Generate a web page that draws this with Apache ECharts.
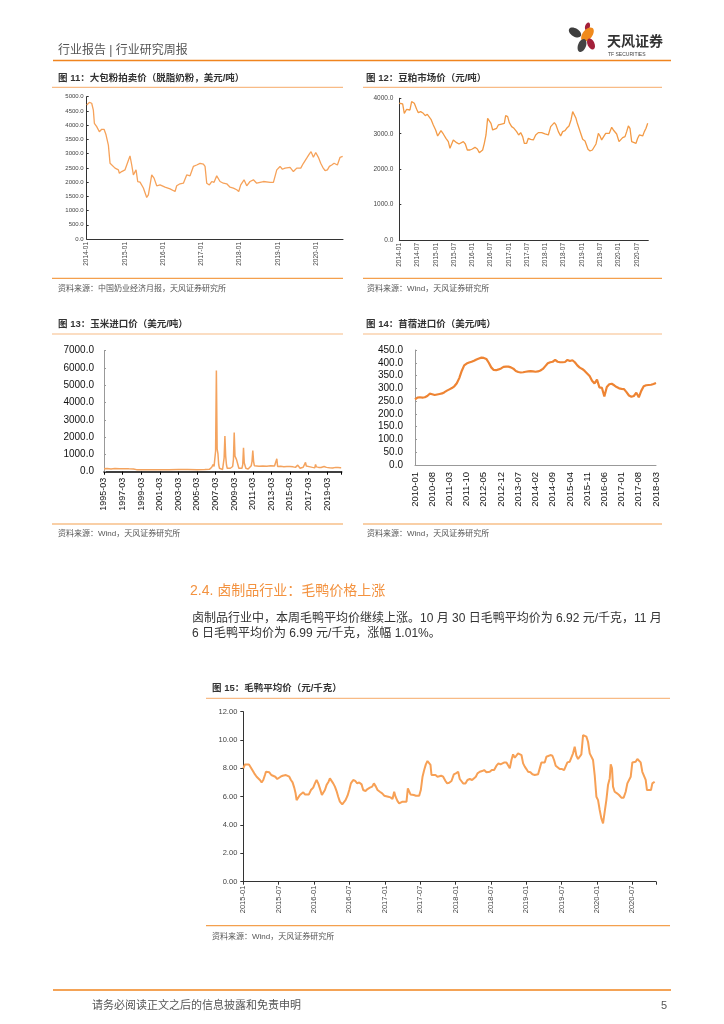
<!DOCTYPE html>
<html><head><meta charset="utf-8">
<script src="https://cdn.jsdelivr.net/npm/echarts@6/dist/echarts.min.js"></script>
<style>html,body{margin:0;padding:0;background:#fff}#c{width:724px;height:1024px}</style>
</head><body><div id="c"></div>
<script>
// ---- Data ----
// Fig 11: skim milk powder auction price, x = months since 2014-01
const milkTicks = ['2014-01','2015-01','2016-01','2017-01','2018-01','2019-01','2020-01'];
const milkData = [[0,4710],[0.84,4800],[1.57,4770],[2.09,4530],[2.41,4065],[3.14,3950],[3.98,3770],[4.71,3855],[5.45,3855],[6.07,3660],[6.81,3300],[7.33,2660],[7.85,2600],[8.9,2490],[9.95,2430],[10.26,2310],[10.99,2370],[12.04,2430],[12.77,2660],[13.6,2920],[14.14,2600],[14.66,2250],[15.5,2430],[16.02,2020],[16.75,2000],[17.8,1790],[18.85,1460],[19.37,1550],[19.9,1900],[20.42,2250],[21.15,2140],[21.99,1870],[23.04,1900],[24.6,1820],[26.18,1760],[27.75,1670],[28.27,1870],[29.32,1940],[30.37,1960],[31.41,2250],[32.46,2220],[33.5,2550],[34.55,2600],[35.6,2660],[36.65,2630],[37.17,2550],[37.7,1960],[38.53,1900],[39.27,2020],[40,1990],[40.84,2220],[41.88,2020],[42.93,1960],[43.98,1940],[45.03,1820],[46.07,1790],[47.12,1730],[47.75,1670],[48.38,1900],[49,1900],[49.42,2080],[50.26,1870],[51.3,2020],[52.36,2080],[53.4,1960],[54.45,1990],[55.5,2020],[57.6,1990],[58.64,1990],[59.7,2430],[60.73,2550],[61.47,2450],[62.3,2490],[63.87,2520],[64.92,2370],[65.97,2490],[67.23,2490],[68.06,2660],[69.1,2840],[69.95,2990],[70.47,3070],[71.2,2870],[71.94,3040],[72.77,2870],[73.5,2660],[74.14,2520],[74.87,2400],[75.6,2430],[76.23,2550],[76.96,2600],[77.7,2660],[78.32,2720],[78.74,2600],[79.58,2870],[80.4,2900]];

// Fig 12: soybean meal price, x = months since 2014-01
const soyTicks = ['2014-01','2014-07','2015-01','2015-07','2016-01','2016-07','2017-01','2017-07','2018-01','2018-07','2019-01','2019-07','2020-01','2020-07'];
const soyData = [[0,3860],[0.44,3880],[1.1,3840],[1.64,3576],[1.97,3530],[2.41,3690],[2.96,3718],[3.5,3670],[4.05,3906],[4.38,3953],[4.93,3859],[5.7,3690],[6.24,3595],[7.01,3624],[7.89,3576],[8.54,3510],[9.2,3548],[9.75,3595],[10.41,3407],[11.17,3247],[11.94,3106],[12.6,2936],[13.14,3012],[13.69,3087],[14.46,2993],[15.33,2871],[16.1,2776],[16.65,2588],[17.2,2541],[17.74,2824],[18.29,2776],[18.84,2748],[19.61,2711],[20.26,2748],[21.03,2776],[21.69,2711],[22.34,2541],[23.22,2541],[23.99,2569],[24.86,2616],[25.63,2569],[26.29,2466],[26.83,2428],[27.38,2541],[27.93,2729],[28.48,2965],[29.02,3435],[29.57,3435],[30.12,3294],[30.67,3106],[31.22,3153],[31.98,3153],[32.53,3247],[33.3,3266],[33.95,3219],[34.5,3294],[34.94,3510],[35.6,3482],[36.14,3313],[36.91,3200],[37.68,3153],[38.55,3059],[39.21,2965],[39.87,3031],[40.53,2918],[41.07,2729],[41.84,2729],[42.39,2871],[43.15,2842],[44.03,2824],[44.8,2965],[45.67,3031],[46.77,3031],[47.86,2993],[48.96,2965],[49.73,3200],[50.27,3181],[50.93,3313],[51.48,3247],[52.25,3059],[53.01,2936],[53.67,3059],[54.44,3087],[54.98,3153],[55.75,3219],[56.41,3388],[56.96,3624],[57.5,3624],[58.05,3435],[58.49,3294],[59.04,3247],[59.58,3012],[60.24,2842],[61.01,2795],[61.56,2776],[61.99,2560],[62.65,2513],[63.42,2541],[64.07,2560],[64.62,2711],[65.39,3012],[65.94,2936],[66.48,2824],[67.03,2842],[67.8,3012],[68.35,3031],[69,3012],[69.77,3181],[70.32,3106],[70.87,3059],[71.41,2993],[72.18,2776],[72.73,2748],[73.38,2889],[74.15,2918],[74.7,3059],[75.25,3219],[75.79,3153],[76.34,2776],[76.89,2748],[77.77,2729],[78.31,2871],[78.86,2965],[79.41,3012],[79.96,2936],[80.5,3059],[81.05,3153],[81.6,3294]];

// Fig 13: corn import price, x = months since 1995-03
const cornTicks = ['1995-03','1997-03','1999-03','2001-03','2003-03','2005-03','2007-03','2009-03','2011-03','2013-03','2015-03','2017-03','2019-03'];
const cornData = [[0,170],[4,185],[9,160],[14,180],[20,170],[26,175],[32,165],[38,160],[42,120],[50,110],[60,115],[72,120],[84,120],[96,125],[108,125],[120,120],[130,125],[136,135],[139,260],[141,420],[142,300],[143,250],[144,1200],[145,5850],[146,1300],[147,1050],[148,400],[149,200],[151,140],[153,130],[154,200],[155,800],[156,2060],[157,900],[158,400],[159,200],[161,140],[163,200],[165,260],[166,300],[167,700],[168,2260],[169,900],[170,800],[171,700],[172,650],[174,200],[176,120],[178,200],[179,400],[180,1390],[181,500],[183,200],[186,150],[188,200],[190,350],[191,600],[192,1220],[193,600],[194,350],[196,330],[200,320],[205,330],[210,320],[215,340],[220,330],[222,300],[223,750],[224,300],[228,310],[232,290],[236,300],[240,300],[244,280],[247,250],[249,300],[250,380],[251,330],[253,200],[255,170],[257,260],[259,300],[260,540],[261,330],[263,270],[266,280],[269,250],[272,230],[273,420],[274,280],[277,250],[280,240],[284,300],[287,250],[291,230],[295,220],[299,250],[302,240],[305,230],[306,230]];

// Fig 14: alfalfa import price, monthly from 2010-01 to 2018-03
const alfalfaTicks = ['2010-01','2010-08','2011-03','2011-10','2012-05','2012-12','2013-07','2014-02','2014-09','2015-04','2015-11','2016-06','2017-01','2017-08','2018-03'];
const alfalfaValues = [257,264,265,264,265,270,279,277,274,276,278,280,285,291,296,301,308,320,340,368,390,397,401,404,408,413,417,420,419,415,400,382,372,371,374,378,384,385,385,382,377,368,364,362,363,365,366,367,366,365,366,370,376,387,398,402,404,411,404,402,402,403,411,407,410,402,390,381,376,368,358,348,330,319,334,304,302,268,305,316,318,312,305,300,298,297,285,272,267,270,283,265,290,308,312,313,314,317,321];

// Fig 15: live duck average price, x = months since 2015-01
const duckTicks = ['2015-01','2015-07','2016-01','2016-07','2017-01','2017-07','2018-01','2018-07','2019-01','2019-07','2020-01','2020-07'];
const duckData = [[0,8.0],[0.28,8.28],[0.56,8.42],[0.96,8.28],[1.3,8.05],[1.58,7.95],[1.86,7.65],[2.26,7.41],[2.54,7.34],[2.82,7.18],[3.11,7.01],[3.39,7.18],[3.67,7.53],[3.84,7.76],[4.12,7.65],[4.41,7.72],[4.75,7.53],[5.08,7.48],[5.42,7.41],[5.76,7.25],[6.05,7.18],[6.33,7.41],[6.67,7.48],[6.95,7.41],[7.23,7.53],[7.51,7.58],[7.8,7.41],[8.08,7.18],[8.36,7.01],[8.64,6.64],[8.87,6.24],[9.04,5.76],[9.32,5.88],[9.6,6.12],[9.89,6.24],[10.17,6.31],[10.45,6.16],[10.73,6.07],[11.13,6.16],[11.47,6.47],[11.86,6.64],[12.15,6.94],[12.43,7.18],[12.71,6.94],[12.99,6.59],[13.33,6.12],[13.56,6.0],[13.84,6.47],[14.12,6.82],[14.46,7.06],[14.69,7.29],[14.97,7.18],[15.25,6.94],[15.54,6.71],[15.82,6.4],[16.1,6.0],[16.38,5.65],[16.78,5.46],[17.06,5.53],[17.34,5.76],[17.68,6.07],[17.97,6.47],[18.25,6.94],[18.64,7.18],[18.98,7.11],[19.32,6.94],[19.66,7.01],[20.06,6.87],[20.34,6.47],[20.73,6.4],[21.07,6.54],[21.47,6.64],[21.86,6.71],[22.15,6.94],[22.49,6.71],[22.77,6.47],[23.16,6.35],[23.56,6.24],[23.9,6.07],[24.18,6.0],[24.58,6.0],[24.97,5.95],[25.31,5.84],[25.59,6.35],[25.82,6.0],[26.16,5.69],[26.44,5.53],[26.72,5.65],[27.01,5.65],[27.34,5.69],[27.68,5.65],[27.91,6.59],[28.14,6.71],[28.36,6.16],[28.64,6.12],[28.93,6.12],[29.27,6.07],[29.55,5.93],[29.83,6.07],[30.11,6.47],[30.4,7.41],[30.68,7.88],[30.96,8.28],[31.24,8.52],[31.53,8.66],[31.75,8.24],[31.92,7.53],[32.2,7.58],[32.6,7.53],[32.94,7.41],[33.22,7.34],[33.56,7.48],[33.9,7.41],[34.29,7.11],[34.58,6.94],[34.92,6.98],[35.31,7.11],[35.71,7.58],[36.05,7.65],[36.44,7.76],[36.72,7.25],[37.01,7.11],[37.29,6.94],[37.68,6.94],[38.02,7.18],[38.42,7.25],[38.81,7.18],[39.1,7.29],[39.44,7.41],[39.72,7.65],[40.11,7.76],[40.51,7.81],[40.85,7.88],[41.24,7.72],[41.53,7.65],[41.81,7.76],[42.15,7.88],[42.54,7.88],[42.94,8.19],[43.28,8.35],[43.62,8.28],[43.95,8.35],[44.29,8.42],[44.63,8.42],[44.92,8.52],[45.2,8.0],[45.48,8.59],[45.76,8.99],[46.05,8.75],[46.33,8.82],[46.61,9.06],[46.89,9.06],[47.18,8.94],[47.46,8.35],[47.74,8.12],[48.02,7.95],[48.31,7.76],[48.7,7.72],[49.04,7.58],[49.44,7.53],[49.72,7.41],[50.0,7.58],[50.28,8.0],[50.56,8.42],[50.85,8.52],[51.13,8.42],[51.41,8.82],[51.69,8.94],[52.09,8.94],[52.43,8.89],[52.71,8.59],[52.99,8.19],[53.28,8.05],[53.67,7.95],[54.07,7.95],[54.41,7.88],[54.69,8.0],[54.97,8.42],[55.37,8.47],[55.65,8.52],[55.93,9.06],[56.21,9.53],[56.5,8.89],[56.78,8.66],[57.06,8.59],[57.34,8.99],[57.63,10.35],[57.91,10.31],[58.19,10.24],[58.47,9.88],[58.76,9.06],[59.04,8.94],[59.32,8.59],[59.6,7.53],[59.89,6.0],[60.17,5.76],[60.45,5.06],[60.73,4.47],[61.02,4.12],[61.3,4.94],[61.58,5.76],[61.86,6.82],[62.15,7.29],[62.32,8.28],[62.54,8.0],[62.71,6.71],[62.99,6.35],[63.39,6.24],[63.73,6.12],[64.12,5.93],[64.52,5.93],[64.86,6.35],[65.14,6.94],[65.42,7.06],[65.71,7.41],[65.99,8.42],[66.27,8.28],[66.55,8.47],[66.84,8.66],[67.12,8.75],[67.4,8.42],[67.68,7.76],[67.97,7.65],[68.25,7.18],[68.47,6.47],[68.81,6.47],[69.15,6.47],[69.38,6.94],[69.77,7.06]];

// ---- Page texts ----
const headerText = '行业报告 | 行业研究周报';
const titles = ['图 11：大包粉拍卖价（脱脂奶粉，美元/吨）','图 12：豆粕市场价（元/吨）','图 13：玉米进口价（美元/吨）','图 14：苜蓿进口价（美元/吨）','图 15：毛鸭平均价（元/千克）'];
const sources = ['资料来源：中国奶业经济月报，天风证券研究所','资料来源：Wind，天风证券研究所','资料来源：Wind，天风证券研究所','资料来源：Wind，天风证券研究所','资料来源：Wind，天风证券研究所'];
const sectionTitle = '2.4. 卤制品行业：毛鸭价格上涨';
const bodyLines = ['卤制品行业中，本周毛鸭平均价继续上涨。10 月 30 日毛鸭平均价为 6.92 元/千克，11 月','6 日毛鸭平均价为 6.99 元/千克，涨幅 1.01%。'];
const footerText = '请务必阅读正文之后的信息披露和免责申明';

const FF = '"Liberation Sans","Noto Sans CJK SC",sans-serif';
const chart = echarts.init(document.getElementById('c'), null, {renderer:'canvas'});

function xAxis(gi, max, interval, ticks, o) {
  return {type:'value', gridIndex:gi, min:0, max:max, interval:interval,
    axisLine:{show:true, onZero:false, lineStyle:{color:o.lineColor, width:o.lineWidth||1}},
    axisTick:{show:!!o.tick, length:3, lineStyle:{color:o.lineColor}},
    splitLine:{show:false},
    axisLabel:{rotate:90, fontSize:o.fs, color:o.color, margin:o.margin, fontFamily:FF,
      formatter:function(v){const i=Math.round(v/interval);return (Math.abs(v-i*interval)<1e-6 && ticks[i])?ticks[i]:'';}}};
}
function yAxis(gi, max, interval, dec, o) {
  return {type:'value', gridIndex:gi, min:0, max:max, interval:interval,
    axisLine:{show:true, lineStyle:{color:o.lineColor, width:1}},
    axisTick:{show:true, inside:!!o.inside, length:o.tlen||2, lineStyle:{color:o.lineColor}},
    splitLine:{show:false},
    axisLabel:{fontSize:o.fs, color:o.color, margin:o.margin, fontFamily:FF,
      formatter:function(v){return v.toFixed(dec);}}};
}
function line(i, data, color, w) {
  return {type:'line', xAxisIndex:i, yAxisIndex:i, data:data, showSymbol:false, symbol:'none',
    lineStyle:{color:color, width:w}, itemStyle:{color:color}, animation:false, silent:true};
}

const g = [];
function txt(t, x, y, font, fill, align) {
  g.push({type:'text', silent:true, style:{text:t, x:x, y:y, font:font, fill:fill, textAlign:align||'left', textVerticalAlign:'middle'}});
}
function hl(x1, x2, y, color, w) {
  g.push({type:'line', silent:true, shape:{x1:x1, y1:y, x2:x2, y2:y}, style:{stroke:color, lineWidth:w||1}});
}
function petal(cx, cy, rx, ry, rot, color) {
  g.push({type:'ellipse', silent:true, x:cx, y:cy, rotation:rot, shape:{cx:0, cy:0, rx:rx, ry:ry}, style:{fill:color}});
}

// header
txt(headerText, 58, 51, '12px ' + FF, '#555');
hl(53, 671, 60.5, '#F0841E', 1.5);
petal(575, 32.5, 6.8, 4, -0.55, '#3d3d3d');
petal(587.5, 26.5, 2.4, 4.2, -0.3, '#A3203A');
petal(587.5, 34.5, 8.2, 4.8, 0.9, '#F08A1C');
petal(582, 45.5, 4, 6.8, -0.35, '#444444');
petal(591, 44, 3.5, 5.8, 0.45, '#A3203A');
txt('天风证券', 607, 41, 'bold 14px "Noto Sans CJK SC",sans-serif', '#333');
txt('TF SECURITIES', 608, 55, '5px ' + FF, '#444');

// panel decorations
const titleFont = 'bold 9.5px ' + FF;
const srcFont = '8px ' + FF;
const tCol = '#F8BB86', sCol = '#F4A04E';
// fig 11
txt(titles[0], 58, 78, titleFont, '#333'); hl(52, 343, 87.3, tCol, 1.2);
hl(52, 343, 278.3, sCol, 1.2); txt(sources[0], 58, 288.5, srcFont, '#555');
// fig 12
txt(titles[1], 366, 78, titleFont, '#333'); hl(363, 662, 87.3, tCol, 1.2);
hl(363, 662, 278.3, sCol, 1.2); txt(sources[1], 367, 288.5, srcFont, '#555');
// fig 13
txt(titles[2], 58, 324, titleFont, '#333'); hl(52, 343, 334, tCol, 1.2);
hl(52, 343, 524, sCol, 1.2); txt(sources[2], 58, 534, srcFont, '#555');
// fig 14
txt(titles[3], 366, 324, titleFont, '#333'); hl(363, 662, 334, tCol, 1.2);
hl(363, 662, 524, sCol, 1.2); txt(sources[3], 367, 534, srcFont, '#555');
// section text
txt(sectionTitle, 190, 591, '14px ' + FF, '#F3923F');
txt(bodyLines[0], 192, 619, '12px ' + FF, '#333');
txt(bodyLines[1], 192, 633.5, '12px ' + FF, '#333');
// fig 15
txt(titles[4], 212, 688, titleFont, '#333'); hl(206, 670, 698.3, tCol, 1.2);
hl(206, 670, 925.7, sCol, 1.2); txt(sources[4], 212, 936.7, srcFont, '#555');
// footer
hl(53, 671, 990, '#F0841E', 1.5);
txt(footerText, 92, 1005.5, '11px ' + FF, '#555');
txt('5', 667, 1005.5, '11px ' + FF, '#555', 'right');

const option = {
  animation:false,
  textStyle:{fontFamily:FF},
  grid:[
    {left:86.7, top:96.7, width:256.3, height:142.3},
    {left:399.3, top:98.3, width:249, height:141.7},
    {left:104, top:350.7, width:237.7, height:121},
    {left:415, top:350, width:241, height:115},
    {left:243.3, top:711.7, width:412.7, height:170}
  ],
  xAxis:[
    xAxis(0, 80.5, 12, milkTicks, {lineColor:'#333', fs:6.5, color:'#444', margin:3}),
    xAxis(1, 81.8, 6, soyTicks, {lineColor:'#333', fs:6.5, color:'#444', margin:3}),
    xAxis(2, 306.7, 24, cornTicks, {lineColor:'#000', lineWidth:1.5, fs:9, color:'#111', margin:6, tick:true}),
    xAxis(3, 98, 7, alfalfaTicks, {lineColor:'#999', fs:9.5, color:'#111', margin:7}),
    xAxis(4, 70, 6, duckTicks, {lineColor:'#333', fs:7.5, color:'#444', margin:4, tick:true})
  ],
  yAxis:[
    yAxis(0, 5000, 500, 1, {lineColor:'#333', fs:6, color:'#444', margin:3, inside:true}),
    yAxis(1, 4000, 1000, 1, {lineColor:'#333', fs:6.5, color:'#444', margin:6, inside:true}),
    yAxis(2, 7000, 1000, 1, {lineColor:'#999', fs:10, color:'#111', margin:10, inside:true}),
    yAxis(3, 450, 50, 1, {lineColor:'#999', fs:10, color:'#111', margin:12, inside:true, tlen:0}),
    yAxis(4, 12, 2, 2, {lineColor:'#333', fs:7.5, color:'#444', margin:6, tlen:3})
  ],
  series:[
    line(0, milkData, '#F6A25A', 1.3),
    line(1, soyData, '#F39A45', 1.3),
    line(2, cornData, '#F4A35E', 1.5),
    line(3, alfalfaValues.map(function(v,i){return [i,v];}), '#EE8433', 2.2),
    line(4, duckData, '#F7A055', 2)
  ],
  graphic:g
};
chart.setOption(option);
</script></body></html>
